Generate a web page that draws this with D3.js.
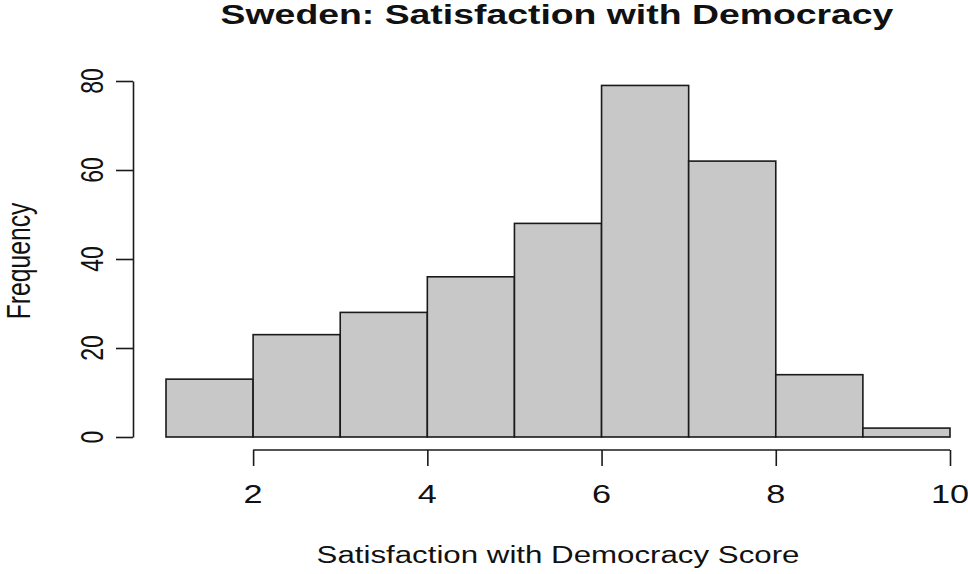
<!DOCTYPE html>
<html><head><meta charset="utf-8">
<script src="https://cdn.jsdelivr.net/npm/d3@7"></script>
<style>body{margin:0;background:#fff}svg{display:block}text{font-family:"Liberation Sans",Arial,sans-serif;fill:#111}</style>
</head><body>
<script>
const binEdges = [1,2,3,4,5,6,7,8,9,10];
const counts = [13,23,28,36,48,79,62,14,2];
const xTicks = [2,4,6,8,10];
const yTicks = [0,20,40,60,80];
const title = "Sweden: Satisfaction with Democracy";
const xTitle = "Satisfaction with Democracy Score";
const yTitle = "Frequency";

const W=968,H=574, SX=1.37;
const svg=d3.select("body").append("svg").attr("width",W).attr("height",H);
const x=d3.scaleLinear().domain([1,10]).range([166,950]);
const y=d3.scaleLinear().domain([0,80]).range([437,81]);
const ink="#1a1a1a";

// bars
const bins=counts.map((c,i)=>({x0:binEdges[i],x1:binEdges[i+1],c}));
svg.append("g").selectAll("rect").data(bins).join("rect")
  .attr("x",d=>x(d.x0)).attr("y",d=>y(d.c))
  .attr("width",d=>x(d.x1)-x(d.x0)).attr("height",d=>y(0)-y(d.c))
  .attr("fill","#c8c8c8").attr("stroke",ink).attr("stroke-width",1.6);

// y axis
const ya=svg.append("g").attr("transform","translate(133,0)")
  .call(d3.axisLeft(y).tickValues(yTicks).tickSize(17).tickSizeOuter(0).tickFormat(""));
ya.selectAll("path,line").attr("stroke",ink).attr("stroke-width",1.6);
// x axis
const xa=svg.append("g").attr("transform","translate(0,450)")
  .call(d3.axisBottom(x).tickValues(xTicks).tickSize(16).tickSizeOuter(0).tickFormat(""));
xa.select(".domain").remove();
xa.append("line").attr("x1",x(xTicks[0])).attr("x2",x(xTicks[xTicks.length-1]))
  .attr("stroke",ink).attr("stroke-width",1.6);
xa.selectAll("line").attr("stroke",ink).attr("stroke-width",1.6);

// stretched text helper
function txt(str,cx,cy,size,opts={}){
  const g=svg.append("g");
  const t=g.append("text").text(str).attr("font-size",size).attr("text-anchor","middle")
    .attr("font-weight",opts.bold?"bold":"normal");
  let sx=SX;
  if(opts.width){const L=t.node().getComputedTextLength(); sx=opts.width/L;}
  g.attr("transform",`translate(${cx},${cy}) scale(${sx},1)`+(opts.rot?" rotate(-90)":""));
  return g;
}
xTicks.forEach(v=>txt(String(v),x(v),503,25));
yTicks.forEach(v=>txt(String(v),103,y(v),23,{rot:true}));
txt(title,557,24,27,{bold:true,width:673});
txt(xTitle,558,563,24.5,{width:483});
txt(yTitle,30,261,24.7,{rot:true});
</script>
</body></html>
